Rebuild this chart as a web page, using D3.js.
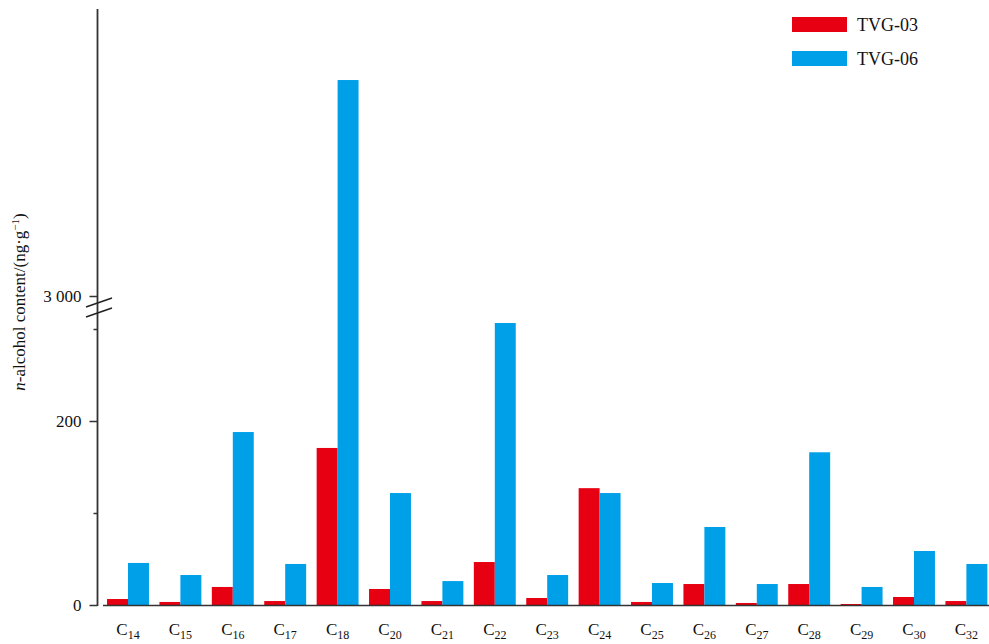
<!DOCTYPE html>
<html>
<head>
<meta charset="utf-8">
<script src="https://cdn.jsdelivr.net/npm/d3@7/dist/d3.min.js"></script>
<style>
  html, body { margin: 0; padding: 0; background: #fff; }
  svg { display: block; font-family: "Liberation Serif", "Times New Roman", serif; }
</style>
</head>
<body>
<svg id="chart" width="989" height="644"></svg>
<script>
// n-alcohol homologues (carbon number) and contents in ng/g
const categories = ["14","15","16","17","18","20","21","22","23","24","25","26","27","28","29","30","32"];
const seriesNames = ["TVG-03", "TVG-06"];
const tvg03 = [6.5, 3.3, 19.6, 4.3, 170.7, 17.4, 4.3, 46.7, 7.6, 127, 3.3, 22.8, 2.2, 22.8, 1.1, 8.7, 4.3];
const tvg06 = [45.7, 32.6, 188, 44.6, 4505, 121.7, 26, 306.5, 32.6, 121.7, 23.9, 84.8, 22.8, 166, 19.6, 58.7, 44.6];
const colors = ["#E60012", "#00A0E9"];

// broken value axis: lower and upper segments
const lowerDomain = [0, 320];
const upperDomain = [3000, 5000];
const lowerTicks = [0, 200];
const lowerMinorTicks = [100, 300];
const upperTicks = [3000];

const svg = d3.select("#chart");
const axisX = 97.5, baseY = 605;

const yLow = d3.scaleLinear().domain(lowerDomain).range([baseY, baseY - 320 * 0.92]);
const yUp = d3.scaleLinear().domain(upperDomain).range([296, 9]);
const yOf = v => v <= lowerDomain[1] ? yLow(v) : yUp(v);

const x0 = d3.scaleBand().domain(categories).range([101.8, 101.8 + 17 * 52.4]).paddingInner(0.2).paddingOuter(0.1);
const x1 = d3.scaleBand().domain(seriesNames).range([0, x0.bandwidth()]);

const rows = categories.map((c, i) => ({ c, vals: [tvg03[i], tvg06[i]] }));

// bars
const g = svg.append("g");
g.selectAll("g.grp").data(rows).join("g")
  .attr("class", "grp")
  .attr("transform", d => `translate(${x0(d.c)},0)`)
  .selectAll("rect").data(d => d.vals.map((v, k) => ({ v, k })))
  .join("rect")
  .attr("x", d => x1(seriesNames[d.k]))
  .attr("width", x1.bandwidth())
  .attr("y", d => yOf(d.v))
  .attr("height", d => baseY - yOf(d.v))
  .attr("fill", d => colors[d.k]);

// x axis baseline
svg.append("line")
  .attr("x1", 103).attr("x2", 989).attr("y1", baseY + 0.5).attr("y2", baseY + 0.5)
  .attr("stroke", "#333").attr("stroke-width", 1.6);

// category labels with subscripts
const lab = svg.append("g").selectAll("text").data(categories).join("text")
  .attr("x", d => x0(d) + x0.bandwidth() / 2)
  .attr("y", 635)
  .attr("text-anchor", "middle")
  .attr("font-size", 17)
  .attr("fill", "#111");
lab.append("tspan").text("C");
lab.append("tspan").attr("dy", 4).attr("font-size", 12).text(d => d);

// y axis line
svg.append("line")
  .attr("x1", axisX).attr("x2", axisX).attr("y1", 9).attr("y2", baseY + 1)
  .attr("stroke", "#333").attr("stroke-width", 1.8);

function styleAxis(sel) {
  sel.select(".domain").remove();
  sel.selectAll(".tick line").attr("stroke", "#333").attr("stroke-width", 1.5);
  sel.selectAll(".tick text").attr("font-size", 17).attr("fill", "#111")
    .attr("font-family", "Liberation Serif, Times New Roman, serif");
}

svg.append("g").attr("transform", `translate(${axisX},0)`)
  .call(d3.axisLeft(yLow).tickValues(lowerTicks).tickSize(8).tickPadding(8).tickFormat(d3.format("d")))
  .call(styleAxis);
svg.append("g").attr("transform", `translate(${axisX},0)`)
  .call(d3.axisLeft(yLow).tickValues(lowerMinorTicks).tickSize(4).tickFormat(""))
  .call(styleAxis);
svg.append("g").attr("transform", `translate(${axisX},0)`)
  .call(d3.axisLeft(yUp).tickValues(upperTicks).tickSize(8).tickPadding(8)
    .tickFormat(d => d3.format(",")(d).replace(",", " ")))
  .call(styleAxis);

// axis break marks
[0, 10].forEach(off => {
  svg.append("line")
    .attr("x1", 86).attr("y1", 307 + off).attr("x2", 112).attr("y2", 298 + off)
    .attr("stroke", "#222").attr("stroke-width", 1.5);
});

// y axis title
const yt = svg.append("text")
  .attr("transform", "translate(25,302) rotate(-90)")
  .attr("text-anchor", "middle")
  .attr("font-size", 17)
  .attr("fill", "#111");
yt.append("tspan").attr("font-style", "italic").text("n");
yt.append("tspan").text("-alcohol content/(ng\u00B7g");
yt.append("tspan").attr("dy", -6).attr("font-size", 11).text("\u22121");
yt.append("tspan").attr("dy", 6).text(")");

// legend
const lg = svg.append("g").selectAll("g").data(seriesNames).join("g")
  .attr("transform", (d, i) => `translate(792,${17 + i * 34})`);
lg.append("rect").attr("width", 55).attr("height", 15).attr("fill", (d, i) => colors[i]);
lg.append("text").attr("x", 65).attr("y", 13.5).attr("font-size", 18).attr("fill", "#111").text(d => d);
</script>
</body>
</html>
